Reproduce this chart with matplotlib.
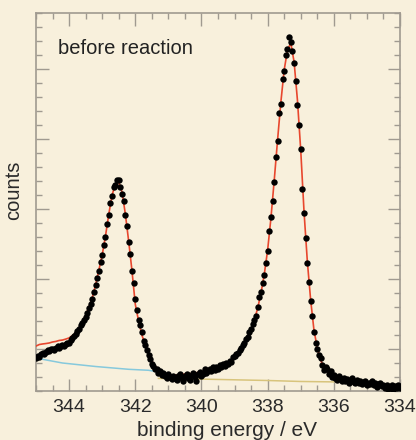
import numpy as np
import matplotlib
matplotlib.use("Agg")
import matplotlib.pyplot as plt
from matplotlib.ticker import MultipleLocator

# binding energy grid of the measured points (eV), 0.05 eV steps
be_start = 345.0
be_step = 0.05

counts_data = [
    4.35, 4.50, 4.45, 4.62, 4.70, 4.66, 4.80, 4.90, 4.85, 4.98, 5.02,
    4.95, 5.10, 5.18, 5.08, 5.22, 5.30, 5.25, 5.38, 5.45, 5.42,
    5.62, 5.80, 5.95, 6.05, 6.30, 6.45, 6.70, 6.85, 7.10, 7.30,
    7.60, 7.90, 8.25, 8.60, 9.05, 9.55, 10.05, 10.60, 11.20, 11.70,
    12.45, 13.00, 13.95, 14.55, 15.40, 15.95, 16.55, 16.70, 17.05, 17.05,
    16.60, 16.10, 15.55, 14.55, 13.75, 12.65, 11.75, 10.55, 9.70, 8.55,
    7.80, 7.10, 6.75, 6.20, 5.60, 5.30, 4.95, 4.55, 4.30, 3.95,
    3.80, 3.55, 3.60, 3.30, 3.45, 3.15, 3.30, 3.05, 2.95, 3.20,
    3.00, 2.85, 3.10, 2.95, 2.80, 3.05, 3.20, 2.90, 2.75, 3.10,
    3.25, 2.95, 2.80, 3.15, 3.30, 3.00, 2.70, 3.20, 3.35, 3.05,
    3.25, 3.55, 3.30, 3.45, 3.60, 3.40, 3.70, 3.50, 3.75, 3.60,
    3.85, 3.70, 3.95, 3.80, 4.00, 3.95, 4.15, 4.10, 4.40, 4.50,
    4.65, 4.70, 4.95, 5.05, 5.30, 5.40, 5.70, 5.85, 6.20, 6.40,
    6.80, 7.10, 7.35, 8.00, 8.70, 9.05, 9.70, 10.30, 11.15, 12.00,
    13.40, 14.45, 15.60, 16.95, 18.70, 19.85, 21.85, 22.50, 24.30, 24.85,
    26.00, 26.40, 27.25, 26.95, 26.30, 25.40, 24.15, 22.45, 21.00, 19.25,
    16.40, 14.70, 12.95, 11.15, 9.80, 8.45, 7.35, 6.25, 5.45, 5.00,
    4.55, 4.35, 3.85, 3.50, 3.75, 3.60, 3.25, 3.40, 3.00, 3.15,
    2.95, 2.80, 3.05, 2.90, 2.75, 2.95, 2.70, 2.85, 2.60, 2.75,
    2.90, 2.65, 2.55, 2.80, 2.60, 2.70, 2.50, 2.65, 2.75, 2.45,
    2.60, 2.50, 2.70, 2.40, 2.55, 2.30, 2.50, 2.60, 2.35, 2.45,
    2.20, 2.40, 2.15, 2.30, 2.45, 2.10, 2.35, 2.20, 2.40, 2.25,
]

# fitted envelope (10^3 counts), 0.1 eV steps from 345.0 to 334.0
fit_step = 0.1
counts_fit = [
    5.21, 5.32, 5.36, 5.39, 5.43, 5.50, 5.54, 5.61, 5.64, 5.71,
    5.79, 5.95, 6.15, 6.50, 6.95, 7.40, 8.00, 8.64, 9.57, 10.64,
    11.71, 13.07, 14.64, 16.00, 16.79, 16.93, 16.21, 14.64, 12.71, 10.60,
    8.20, 7.00, 6.00, 5.30, 4.60, 4.15, 3.79, 3.54, 3.36, 3.21,
    3.14, 3.14, 3.14, 3.14, 3.18, 3.21, 3.21, 3.25, 3.29, 3.32,
    3.36, 3.43, 3.46, 3.54, 3.61, 3.68, 3.75, 3.86, 3.96, 4.11,
    4.36, 4.64, 5.00, 5.43, 5.86, 6.43, 7.07, 7.93, 9.00, 10.36,
    12.07, 14.36, 17.07, 19.93, 22.64, 24.93, 26.36, 26.86, 25.50, 22.79,
    19.21, 14.80, 11.25, 8.50, 6.35, 5.07, 4.21, 3.71, 3.39, 3.18,
    3.07, 3.00, 2.93, 2.86, 2.79, 2.75, 2.71, 2.68, 2.64, 2.61,
    2.57, 2.54, 2.50, 2.46, 2.43, 2.39, 2.36, 2.32, 2.29, 2.25,
    2.21,
]

# backgrounds under the two peaks
bg1_be = [345.0, 344.2, 343.2, 342.2, 341.6, 341.35]
bg1_counts = [4.35, 4.00, 3.75, 3.55, 3.48, 3.38]
bg2_be = [341.3, 340.0, 339.0, 338.0, 337.0, 336.0]
bg2_counts = [2.90, 2.85, 2.80, 2.75, 2.68, 2.65]

paper = "#f8f0dc"
frame = "#a09a90"

be_data = be_start - be_step * np.arange(len(counts_data))
be_fit = be_start - fit_step * np.arange(len(counts_fit))

plt.rcParams["font.family"] = ["Liberation Sans", "DejaVu Sans"]

fig = plt.figure(figsize=(4.16, 4.40), dpi=100, facecolor=paper)
ax = fig.add_axes([36 / 416, 1 - 391 / 440, 364 / 416, 378 / 440])
ax.set_facecolor(paper)

ax.plot(bg1_be, bg1_counts, color="#86c9dc", lw=1.1, zorder=2)
ax.plot(bg2_be, bg2_counts, color="#d8c47c", lw=1.1, zorder=2)
ax.plot(be_fit, counts_fit, color="#e8472e", lw=1.2, zorder=3)
ax.plot(be_data, counts_data, "o", color="black", ms=4.6, mew=0, zorder=4)

ax.set_xlim(345, 334)
ax.set_ylim(2, 29)

ax.xaxis.set_major_locator(MultipleLocator(2))
ax.xaxis.set_minor_locator(MultipleLocator(0.5))
ax.yaxis.set_major_locator(MultipleLocator(5))
ax.yaxis.set_minor_locator(MultipleLocator(1))
ax.tick_params(which="both", direction="in", top=True, right=True, color=frame, width=1)
ax.tick_params(which="major", length=9)
ax.tick_params(which="minor", length=4.5)
ax.tick_params(axis="x", labelsize=14, labelcolor="#2a2a2a", pad=6)
ax.tick_params(axis="y", labelleft=False)

for s in ax.spines.values():
    s.set_color(frame)
    s.set_linewidth(1.2)

ax.set_xlabel("binding energy / eV", fontsize=15, color="#2a2a2a")
ax.xaxis.set_label_coords(0.524, -0.08)
ax.set_ylabel("counts", fontsize=14.5, color="#2a2a2a")
ax.yaxis.set_label_coords(-0.035, 0.53)

ax.text(0.06, 0.905, "before reaction", transform=ax.transAxes, fontsize=14.5,
        color="#222222", va="center", ha="left")

fig.savefig("out.png", dpi=100, facecolor=paper)
